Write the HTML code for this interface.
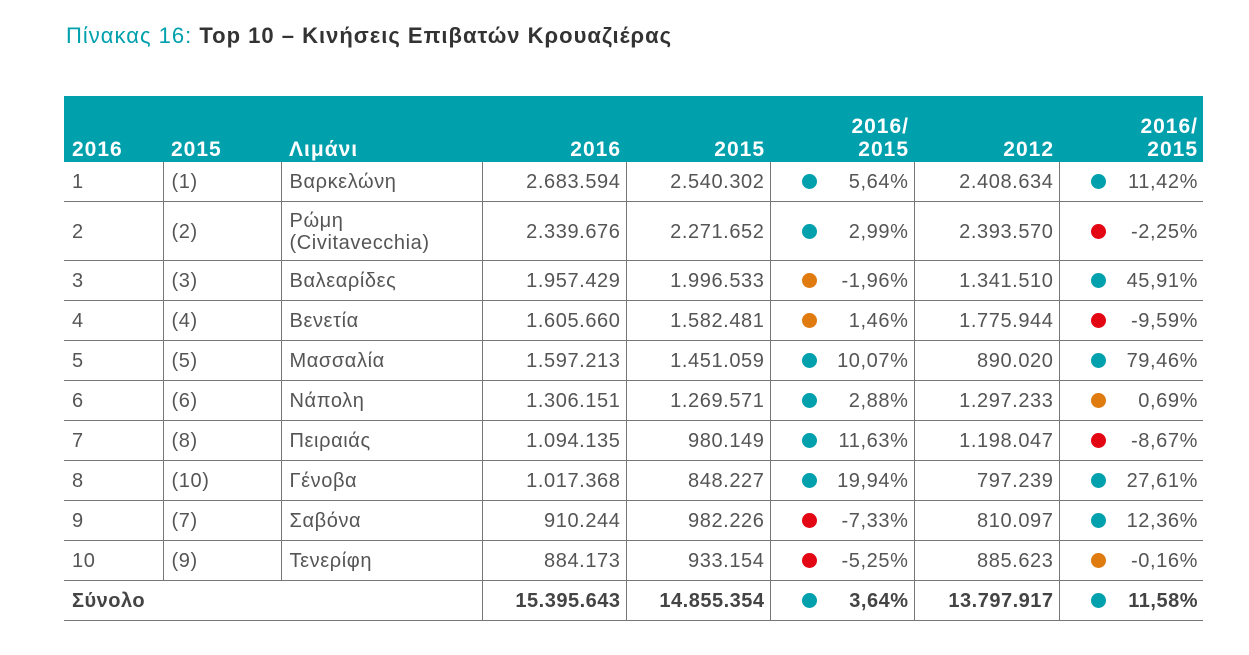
<!DOCTYPE html>
<html><head><meta charset="utf-8"><style>
body{margin:0;background:#fff;width:1249px;height:655px;overflow:hidden;font-family:"Liberation Sans","DejaVu Sans",sans-serif;}
.title{position:absolute;left:66px;top:23px;font-size:22px;color:#333;font-weight:bold;letter-spacing:1px;white-space:nowrap;}
.title span{color:#00a0ad;font-weight:normal;}
table{position:absolute;left:64px;top:96px;border-collapse:collapse;table-layout:fixed;width:1139px;color:#555;font-size:20px;letter-spacing:0.6px;}
th{background:#00a0ad;color:#fff;font-weight:bold;font-size:21px;letter-spacing:1px;vertical-align:bottom;padding:0 5px 1px 8px;height:65px;line-height:23px;}
td{border-bottom:1px solid #777;border-left:1px solid #777;padding:2px 5px 0 8px;height:37px;white-space:nowrap;}
td:first-child{border-left:none;}
.r{text-align:right;}
.l{text-align:left;}
.d{display:inline-block;width:15px;height:15px;border-radius:50%;float:left;margin-left:23px;margin-top:3px;}
.t{background:#00a0ad}.o{background:#e07b10}.x{background:#e30613}
.two td{height:56px;line-height:22px;}
.tot td{font-weight:bold;color:#444;letter-spacing:0.5px;}
</style></head><body>
<div class="title"><span>Πίνακας 16:</span> Top 10 – Κινήσεις Επιβατών Κρουαζιέρας</div>
<table>
<colgroup><col style="width:99px"><col style="width:118px"><col style="width:201px"><col style="width:144px"><col style="width:144px"><col style="width:144px"><col style="width:145px"><col style="width:144px"></colgroup>
<tr><th class="l">2016</th><th class="l">2015</th><th class="l">Λιμάνι</th><th class="r">2016</th><th class="r">2015</th><th class="r">2016/<br>2015</th><th class="r">2012</th><th class="r">2016/<br>2015</th></tr>
<tr><td>1</td><td>(1)</td><td>Βαρκελώνη</td><td class="r">2.683.594</td><td class="r">2.540.302</td><td class="r"><i class="d t"></i>5,64%</td><td class="r">2.408.634</td><td class="r"><i class="d t"></i>11,42%</td></tr>
<tr class="two"><td>2</td><td>(2)</td><td>Ρώμη<br>(Civitavecchia)</td><td class="r">2.339.676</td><td class="r">2.271.652</td><td class="r"><i class="d t"></i>2,99%</td><td class="r">2.393.570</td><td class="r"><i class="d x"></i>-2,25%</td></tr>
<tr><td>3</td><td>(3)</td><td>Βαλεαρίδες</td><td class="r">1.957.429</td><td class="r">1.996.533</td><td class="r"><i class="d o"></i>-1,96%</td><td class="r">1.341.510</td><td class="r"><i class="d t"></i>45,91%</td></tr>
<tr><td>4</td><td>(4)</td><td>Βενετία</td><td class="r">1.605.660</td><td class="r">1.582.481</td><td class="r"><i class="d o"></i>1,46%</td><td class="r">1.775.944</td><td class="r"><i class="d x"></i>-9,59%</td></tr>
<tr><td>5</td><td>(5)</td><td>Μασσαλία</td><td class="r">1.597.213</td><td class="r">1.451.059</td><td class="r"><i class="d t"></i>10,07%</td><td class="r">890.020</td><td class="r"><i class="d t"></i>79,46%</td></tr>
<tr><td>6</td><td>(6)</td><td>Νάπολη</td><td class="r">1.306.151</td><td class="r">1.269.571</td><td class="r"><i class="d t"></i>2,88%</td><td class="r">1.297.233</td><td class="r"><i class="d o"></i>0,69%</td></tr>
<tr><td>7</td><td>(8)</td><td>Πειραιάς</td><td class="r">1.094.135</td><td class="r">980.149</td><td class="r"><i class="d t"></i>11,63%</td><td class="r">1.198.047</td><td class="r"><i class="d x"></i>-8,67%</td></tr>
<tr><td>8</td><td>(10)</td><td>Γένοβα</td><td class="r">1.017.368</td><td class="r">848.227</td><td class="r"><i class="d t"></i>19,94%</td><td class="r">797.239</td><td class="r"><i class="d t"></i>27,61%</td></tr>
<tr><td>9</td><td>(7)</td><td>Σαβόνα</td><td class="r">910.244</td><td class="r">982.226</td><td class="r"><i class="d x"></i>-7,33%</td><td class="r">810.097</td><td class="r"><i class="d t"></i>12,36%</td></tr>
<tr><td>10</td><td>(9)</td><td>Τενερίφη</td><td class="r">884.173</td><td class="r">933.154</td><td class="r"><i class="d x"></i>-5,25%</td><td class="r">885.623</td><td class="r"><i class="d o"></i>-0,16%</td></tr>
<tr class="tot"><td colspan="3">Σύνολο</td><td class="r">15.395.643</td><td class="r">14.855.354</td><td class="r"><i class="d t"></i>3,64%</td><td class="r">13.797.917</td><td class="r"><i class="d t"></i>11,58%</td></tr>
</table>
</body></html>
